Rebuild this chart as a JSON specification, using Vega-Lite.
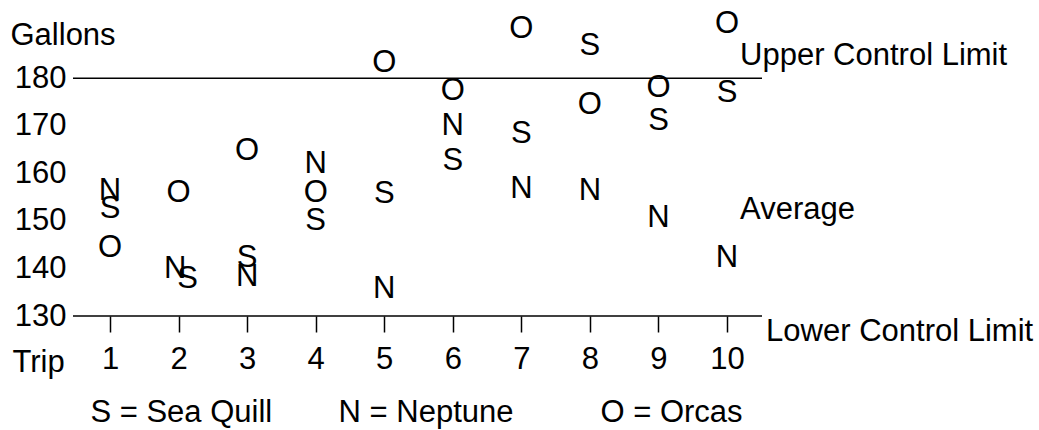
{
  "$schema": "https://vega.github.io/schema/vega-lite/v6.json",
  "width": 689,
  "height": 309,
  "autosize": {"type": "none"},
  "padding": {"left": 73, "top": 7, "right": 277, "bottom": 114},
  "background": "white",
  "config": {
    "font": "Liberation Sans",
    "view": {"stroke": null},
    "text": {"font": "Liberation Sans", "fontSize": 31, "color": "black"},
    "axis": {"grid": false, "labelFont": "Liberation Sans", "titleFont": "Liberation Sans", "labelColor": "black", "titleColor": "black"}
  },
  "datasets": {
    "letters": [
      {"trip": 1, "gallons": 156.3, "boat": "N"},
      {"trip": 1, "gallons": 152.5, "boat": "S"},
      {"trip": 1, "gallons": 144.4, "boat": "O"},
      {"trip": 2, "gallons": 155.8, "boat": "O"},
      {"trip": 1.95, "gallons": 139.9, "boat": "N"},
      {"trip": 2.13, "gallons": 137.8, "boat": "S"},
      {"trip": 3, "gallons": 164.8, "boat": "O"},
      {"trip": 3, "gallons": 142.3, "boat": "S"},
      {"trip": 3, "gallons": 138.1, "boat": "N"},
      {"trip": 4, "gallons": 162.0, "boat": "N"},
      {"trip": 4, "gallons": 155.9, "boat": "O"},
      {"trip": 4, "gallons": 150.0, "boat": "S"},
      {"trip": 5, "gallons": 183.3, "boat": "O"},
      {"trip": 5, "gallons": 155.7, "boat": "S"},
      {"trip": 5, "gallons": 135.7, "boat": "N"},
      {"trip": 6, "gallons": 177.4, "boat": "O"},
      {"trip": 6, "gallons": 170.0, "boat": "N"},
      {"trip": 6, "gallons": 162.7, "boat": "S"},
      {"trip": 7, "gallons": 190.4, "boat": "O"},
      {"trip": 7, "gallons": 168.3, "boat": "S"},
      {"trip": 7, "gallons": 156.7, "boat": "N"},
      {"trip": 8, "gallons": 186.9, "boat": "S"},
      {"trip": 8, "gallons": 174.4, "boat": "O"},
      {"trip": 8, "gallons": 156.3, "boat": "N"},
      {"trip": 9, "gallons": 178.0, "boat": "O"},
      {"trip": 9, "gallons": 171.1, "boat": "S"},
      {"trip": 9, "gallons": 150.6, "boat": "N"},
      {"trip": 10, "gallons": 191.5, "boat": "O"},
      {"trip": 10, "gallons": 176.9, "boat": "S"},
      {"trip": 10, "gallons": 142.3, "boat": "N"}
    ],
    "limits": [
      {"gallons": 180},
      {"gallons": 130}
    ],
    "notes": [
      {"trip": 10.19, "gallons": 184.7, "label": "Upper Control Limit"},
      {"trip": 10.19, "gallons": 152.4, "label": "Average"},
      {"trip": 10.57, "gallons": 126.6, "label": "Lower Control Limit"}
    ],
    "key": [
      {"trip": 2.04, "gallons": 109.6, "label": "S = Sea Quill"},
      {"trip": 5.61, "gallons": 109.6, "label": "N = Neptune"},
      {"trip": 9.19, "gallons": 109.6, "label": "O = Orcas"}
    ]
  },
  "layer": [
    {
      "data": {"name": "limits"},
      "mark": {"type": "rule", "color": "black", "strokeWidth": 1.5},
      "encoding": {
        "y": {
          "field": "gallons", "type": "quantitative",
          "scale": {"domain": [130, 195], "nice": false, "zero": false},
          "axis": {
            "title": "Gallons", "titleAngle": 0, "titleAlign": "left", "titleBaseline": "middle",
            "titleX": -63, "titleY": 28, "titleFontSize": 31, "titleFontWeight": "normal",
            "values": [130, 140, 150, 160, 170, 180], "labelFontSize": 31, "labelPadding": 7,
            "domain": false, "ticks": false
          }
        }
      }
    },
    {
      "data": {"name": "letters"},
      "mark": {"type": "text", "align": "center", "baseline": "middle", "fontSize": 31},
      "encoding": {
        "x": {
          "field": "trip", "type": "quantitative",
          "scale": {"domain": [0.46, 10.51], "nice": false, "zero": false},
          "axis": {
            "title": "Trip", "titleAlign": "left", "titleBaseline": "alphabetic",
            "titleX": -61, "titleY": 55, "titleFontSize": 31, "titleFontWeight": "normal",
            "values": [1, 2, 3, 4, 5, 6, 7, 8, 9, 10], "format": "d",
            "labelFontSize": 31, "labelPadding": 12,
            "domain": false, "ticks": true, "tickSize": 16, "tickColor": "black", "tickWidth": 1.5
          }
        },
        "y": {"field": "gallons", "type": "quantitative"},
        "text": {"field": "boat"}
      }
    },
    {
      "data": {"name": "notes"},
      "mark": {"type": "text", "align": "left", "baseline": "middle", "fontSize": 31},
      "encoding": {
        "x": {"field": "trip", "type": "quantitative"},
        "y": {"field": "gallons", "type": "quantitative"},
        "text": {"field": "label"}
      }
    },
    {
      "data": {"name": "key"},
      "mark": {"type": "text", "align": "center", "baseline": "middle", "fontSize": 31},
      "encoding": {
        "x": {"field": "trip", "type": "quantitative"},
        "y": {"field": "gallons", "type": "quantitative"},
        "text": {"field": "label"}
      }
    }
  ]
}
